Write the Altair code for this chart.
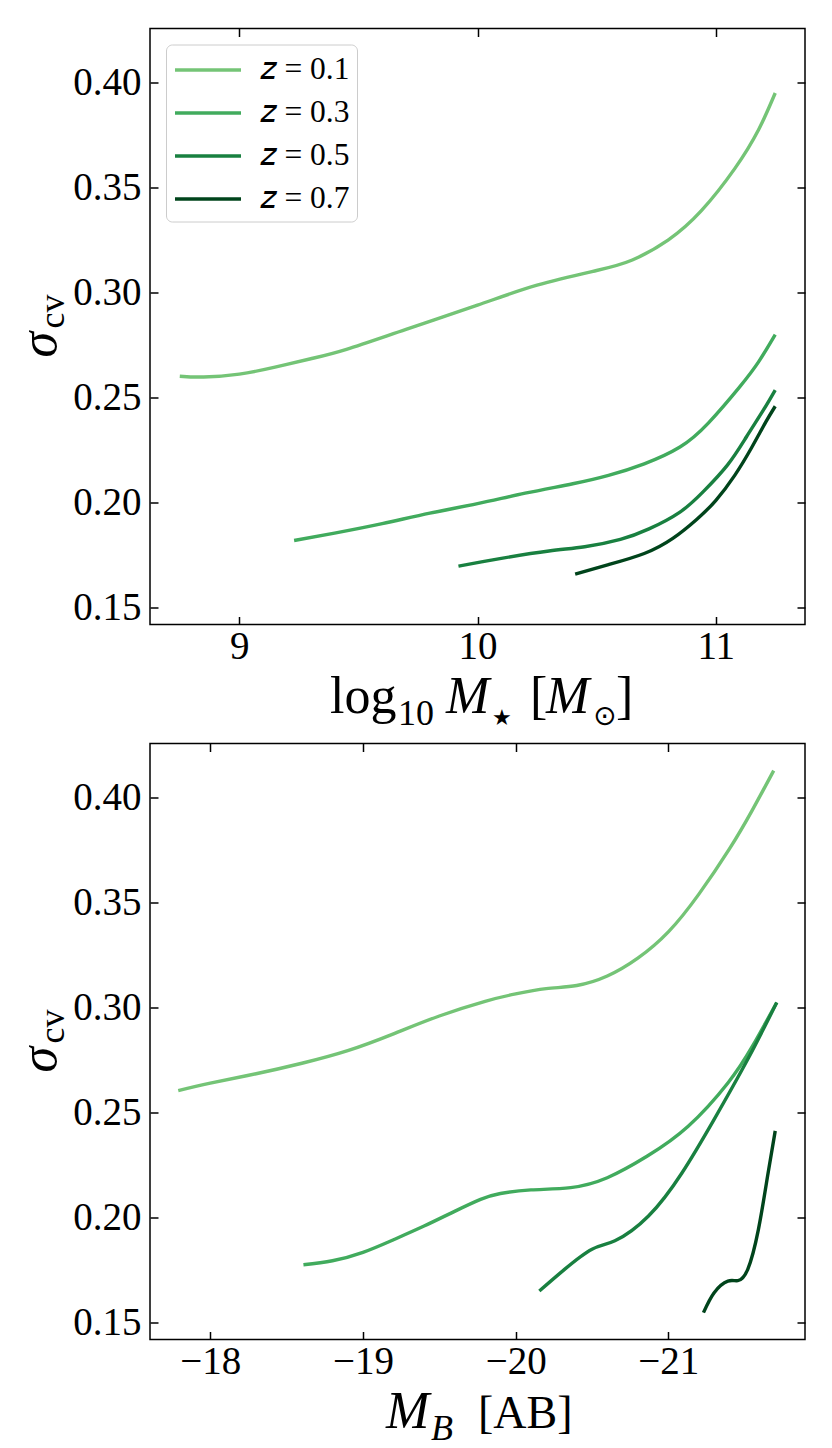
import altair as alt
import pandas as pd

SERIF = "Liberation Serif"

# ---------------- data ----------------
z_labels = ["𝑧 = 0.1", "𝑧 = 0.3", "𝑧 = 0.5", "𝑧 = 0.7"]
colors = ["#74c476", "#41ab5d", "#198040", "#00441b"]

# top panel: log10 M* vs sigma_cv
top_x_01 = [8.75, 8.85, 9.0, 9.15, 9.3, 9.45, 9.7, 10.0, 10.25, 10.5, 10.65, 10.8, 10.94, 11.08, 11.18, 11.25]
top_y_01 = [0.2602, 0.2598, 0.2612, 0.2645, 0.2685, 0.2730, 0.2825, 0.2940, 0.3035, 0.3105, 0.3155, 0.3250, 0.3390, 0.3590, 0.3775, 0.3950]
top_x_03 = [9.23, 9.4, 9.6, 9.8, 10.0, 10.2, 10.4, 10.55, 10.7, 10.85, 10.97, 11.1, 11.18, 11.25]
top_y_03 = [0.1820, 0.1855, 0.1900, 0.1950, 0.1995, 0.2045, 0.2090, 0.2130, 0.2185, 0.2265, 0.2380, 0.2550, 0.2670, 0.2800]
top_x_05 = [9.92, 10.1, 10.3, 10.45, 10.6, 10.72, 10.85, 10.95, 11.05, 11.13, 11.2, 11.25]
top_y_05 = [0.1698, 0.1735, 0.1770, 0.1790, 0.1825, 0.1875, 0.1955, 0.2055, 0.2180, 0.2315, 0.2440, 0.2536]
top_x_07 = [10.41, 10.55, 10.7, 10.82, 10.92, 11.0, 11.08, 11.15, 11.21, 11.25]
top_y_07 = [0.1660, 0.1705, 0.1758, 0.1830, 0.1920, 0.2010, 0.2130, 0.2260, 0.2383, 0.2459]

# bottom panel: M_B vs sigma_cv
bot_x_01 = [-17.79, -18.0, -18.3, -18.6, -18.9, -19.2, -19.5, -19.8, -20.0, -20.2, -20.4, -20.6, -20.8, -21.0, -21.2, -21.4, -21.55, -21.69]
bot_y_01 = [0.2605, 0.2640, 0.2685, 0.2735, 0.2795, 0.2875, 0.2960, 0.3030, 0.3065, 0.3090, 0.3105, 0.3150, 0.3235, 0.3360, 0.3540, 0.3755, 0.3940, 0.4128]
bot_x_03 = [-18.61, -18.8, -19.0, -19.2, -19.4, -19.6, -19.77, -19.9, -20.1, -20.36, -20.6, -20.86, -21.13, -21.39, -21.55, -21.71]
bot_y_03 = [0.1776, 0.1795, 0.1835, 0.1895, 0.1960, 0.2030, 0.2087, 0.2115, 0.2132, 0.2143, 0.2190, 0.2292, 0.2435, 0.2641, 0.2815, 0.3024]
bot_x_05 = [-20.155, -20.32, -20.5, -20.65, -20.87, -21.09, -21.3, -21.52, -21.71]
bot_y_05 = [0.1651, 0.1754, 0.1850, 0.1890, 0.2008, 0.2214, 0.2468, 0.2754, 0.3024]
bot_x_07 = [-21.23, -21.30, -21.39, -21.455, -21.52, -21.59, -21.65, -21.70]
bot_y_07 = [0.1548, 0.1643, 0.1698, 0.1700, 0.1754, 0.1944, 0.2198, 0.2413]

top_xticks = [9, 10, 11]
bot_xticks = [-18, -19, -20, -21]
yticks = [0.15, 0.20, 0.25, 0.30, 0.35, 0.40]


def frame(xs_list, ys_list):
    rows = []
    for lab, xs, ys in zip(z_labels, xs_list, ys_list):
        for a, b in zip(xs, ys):
            rows.append({"x": a, "y": b, "z": lab})
    return pd.DataFrame(rows)


df_top = frame([top_x_01, top_x_03, top_x_05, top_x_07], [top_y_01, top_y_03, top_y_05, top_y_07])
df_bot = frame([bot_x_01, bot_x_03, bot_x_05, bot_x_07], [bot_y_01, bot_y_03, bot_y_05, bot_y_07])

# ---------------- layout constants ----------------
W = 655
H = 596
YDOM = [0.142, 0.4257]
TICK_FS = 39
TITLE_FS = 52
SUB_FS = 36


def txt(text, x, y, size=TITLE_FS, style="normal", angle=0, font=SERIF):
    kw = dict(text=text, font=font, fontSize=size, fontStyle=style, align="left",
              baseline="alphabetic", color="black")
    if angle:
        kw["angle"] = angle
    return alt.Chart(pd.DataFrame({"t": [text]})).mark_text(**kw).encode(
        x=alt.value(x), y=alt.value(y))


def panel(df, xdom, xrev, xticks, xfmt, legend, title_layers, descending):
    xs = alt.Scale(domain=xdom, reverse=xrev, nice=False, zero=False)
    ys = alt.Scale(domain=YDOM, nice=False, zero=False)
    base = alt.Chart(df)
    enc_order = alt.Order("x:Q", sort="descending" if descending else "ascending")
    lines = base.mark_line(strokeWidth=3.4, interpolate="natural").encode(
        x=alt.X("x:Q", scale=xs, axis=alt.Axis(
            orient="bottom", values=xticks, format=xfmt, ticks=False, tickSize=0,
            domain=False, grid=False, labelFont=SERIF, labelFontSize=TICK_FS,
            labelPadding=3, labelColor="black", title=None)),
        y=alt.Y("y:Q", scale=ys, axis=alt.Axis(
            orient="left", values=yticks, format=".2f", ticks=False, tickSize=0,
            domain=False, grid=False, labelFont=SERIF, labelFontSize=TICK_FS,
            labelPadding=9, labelColor="black", title=None)),
        color=alt.Color("z:N", scale=alt.Scale(domain=z_labels, range=colors), legend=legend),
        order=enc_order,
    )
    tick_common = dict(labels=False, domain=False, grid=False, ticks=True, tickSize=8,
                       tickWidth=1.5, tickColor="black", title=None)
    ticks_a = base.mark_point(opacity=0).encode(
        x=alt.X("x:Q", scale=xs, axis=alt.Axis(orient="top", offset=-H, values=xticks, **tick_common)),
        y=alt.Y("y:Q", scale=ys, axis=alt.Axis(orient="right", offset=-W, values=yticks, **tick_common)),
    )
    ticks_b = base.mark_point(opacity=0).encode(
        x=alt.X("x:Q", scale=xs, axis=alt.Axis(orient="bottom", offset=-H, values=xticks, **tick_common)),
        y=alt.Y("y:Q", scale=ys, axis=alt.Axis(orient="left", offset=-W, values=yticks, **tick_common)),
    )
    ytitle = [
        txt("σ", -94, 329, TITLE_FS, "italic", 270),
        txt("cv", -86, 300, SUB_FS, "normal", 270),
    ]
    return alt.layer(lines, ticks_a, ticks_b, *ytitle, *title_layers).resolve_axis(
        x="independent", y="independent").properties(width=W, height=H)


legend_top = alt.Legend(
    title=None, orient="top-left", offset=16, symbolType="M-2,0H2", symbolSize=1089,
    symbolStrokeWidth=3.4, symbolOffset=16.5, labelFont=SERIF, labelFontSize=31.5,
    labelOffset=33, padding=7, rowPadding=9, cornerRadius=6,
    strokeColor="#cccccc", fillColor="white", labelLimit=400, labelColor="black",
)

top_titles = [
    txt("log", 180, 684),
    txt("10", 248, 696, SUB_FS),
    txt("M", 296, 684, TITLE_FS, "italic"),
    txt("★", 342, 696, 22, font="DejaVu Sans"),
    txt("[", 380, 684),
    txt("M", 396, 684, TITLE_FS, "italic"),
    txt("⊙", 443, 696, 28, font="DejaVu Sans"),
    txt("]", 466, 684),
]
bot_titles = [
    txt("M", 236, 684, TITLE_FS, "italic"),
    txt("B", 281, 696, SUB_FS, "italic"),
    txt("[AB]", 328, 684, 46),
]

top = panel(df_top, [8.625, 11.375], False, top_xticks, "d", legend_top, top_titles, False)
bottom = panel(df_bot, [-21.895, -17.605], True, bot_xticks, "d", None, bot_titles, True)

chart = alt.vconcat(top, bottom, spacing=119, bounds="flush").resolve_scale(
    color="independent").resolve_legend(color="independent").properties(
    padding={"left": 5, "top": 18.5, "right": 5, "bottom": 5},
    background="white",
).configure_view(stroke="black", strokeWidth=1.5)

chart.save("out.html", embed_options={"renderer": "svg", "actions": False})
